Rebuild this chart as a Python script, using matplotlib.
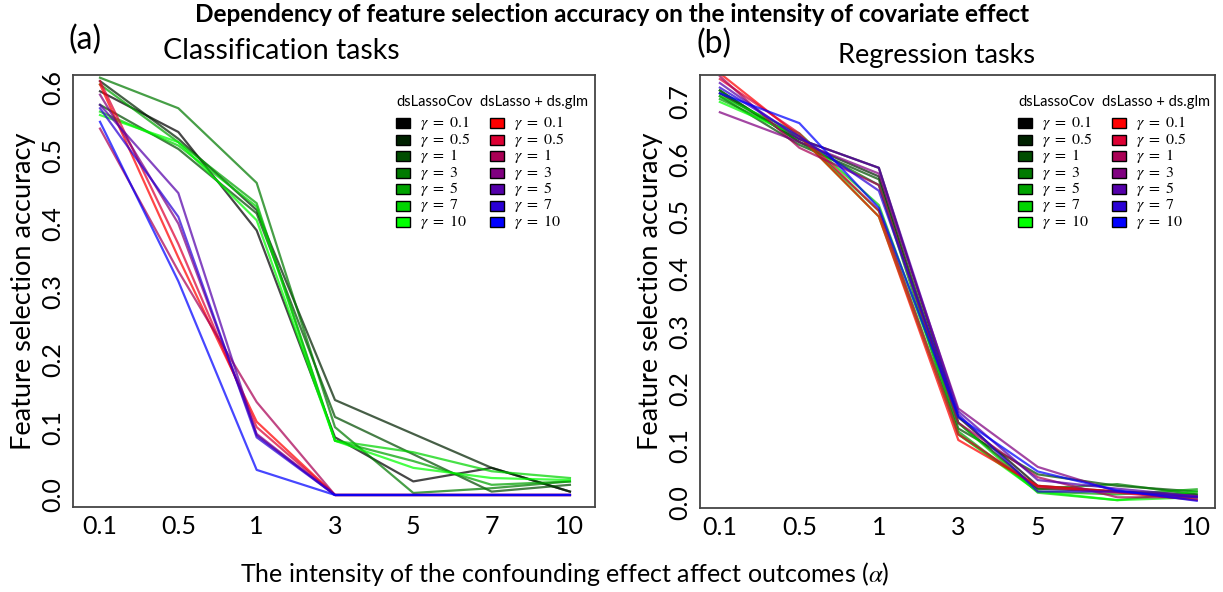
import matplotlib
matplotlib.use("Agg")
import matplotlib.pyplot as plt
from matplotlib.patches import Rectangle

plt.rcParams['font.family'] = ['Lato', 'DejaVu Sans']
plt.rcParams['mathtext.fontset'] = 'stix'

alpha_labels = ["0.1", "0.5", "1", "3", "5", "7", "10"]
gammas = ["0.1", "0.5", "1", "3", "5", "7", "10"]

cov_colors = ["#000000", "#002200", "#004d00", "#007a00", "#00a300", "#00d400", "#00ff00"]
glm_colors = ["#ff0000", "#dd0033", "#aa0055", "#800080", "#5500aa", "#2a00d5", "#0000ff"]

# Classification tasks (a)
cls_cov = [
    [0.595, 0.535, 0.390, 0.085, 0.020, 0.040, 0.005],
    [0.610, 0.525, 0.420, 0.140, 0.090, 0.040, 0.005],
    [0.575, 0.510, 0.415, 0.115, 0.060, 0.005, 0.015],
    [0.615, 0.570, 0.460, 0.100, 0.003, 0.010, 0.020],
    [0.605, 0.520, 0.430, 0.080, 0.050, 0.015, 0.020],
    [0.565, 0.515, 0.425, 0.080, 0.063, 0.035, 0.025],
    [0.560, 0.520, 0.405, 0.080, 0.040, 0.025, 0.022],
]
cls_glm = [
    [0.605, 0.350, 0.108, 0.0, 0.0, 0.0, 0.0],
    [0.610, 0.370, 0.100, 0.0, 0.0, 0.0, 0.0],
    [0.540, 0.330, 0.137, 0.0, 0.0, 0.0, 0.0],
    [0.590, 0.400, 0.090, 0.0, 0.0, 0.0, 0.0],
    [0.575, 0.445, 0.088, 0.0, 0.0, 0.0, 0.0],
    [0.570, 0.410, 0.085, 0.0, 0.0, 0.0, 0.0],
    [0.550, 0.315, 0.037, 0.0, 0.0, 0.0, 0.0],
]

# Regression tasks (b)
reg_cov = [
    [0.715, 0.635, 0.585, 0.150, 0.030, 0.020, 0.010],
    [0.720, 0.630, 0.570, 0.140, 0.025, 0.020, 0.015],
    [0.710, 0.625, 0.565, 0.130, 0.050, 0.030, 0.020],
    [0.720, 0.630, 0.555, 0.120, 0.025, 0.033, 0.015],
    [0.705, 0.640, 0.510, 0.125, 0.020, 0.015, 0.024],
    [0.710, 0.645, 0.520, 0.140, 0.018, 0.005, 0.020],
    [0.700, 0.640, 0.500, 0.120, 0.020, 0.005, 0.010],
]
reg_glm = [
    [0.750, 0.640, 0.500, 0.110, 0.030, 0.020, 0.005],
    [0.740, 0.645, 0.510, 0.120, 0.028, 0.018, 0.006],
    [0.745, 0.620, 0.555, 0.140, 0.045, 0.010, 0.010],
    [0.682, 0.630, 0.575, 0.165, 0.063, 0.020, 0.012],
    [0.733, 0.635, 0.585, 0.160, 0.040, 0.025, 0.012],
    [0.725, 0.640, 0.545, 0.155, 0.020, 0.020, 0.010],
    [0.715, 0.663, 0.515, 0.150, 0.055, 0.022, 0.004],
]

W, H = 1223, 592
fig = plt.figure(figsize=(W / 100, H / 100), dpi=100)


def px_axes(l, r, t, b):
    return fig.add_axes([l / W, 1 - b / H, (r - l) / W, (b - t) / H])


def draw_legend(ax, x0px, ax_l, ax_r, ax_t, ax_b):
    aw = ax_r - ax_l
    ah = ax_b - ax_t

    def fx(px):
        return (px - ax_l) / aw

    def fy(py):
        return (ax_b - py) / ah

    col_offsets = [0, 94]
    ax.text(fx(x0px), fy(102), "dsLassoCov", transform=ax.transAxes,
            fontsize=10.5, va='center', ha='left')
    ax.text(fx(x0px + 84), fy(102), "dsLasso + ds.glm", transform=ax.transAxes,
            fontsize=10.5, va='center', ha='left')
    rows = [123, 140, 156, 173, 189, 206, 222]
    for colors, off in zip([cov_colors, glm_colors], col_offsets):
        for g, c, ry in zip(gammas, colors, rows):
            px = x0px + off
            ax.add_patch(Rectangle((fx(px), fy(ry + 5)), 14 / aw, 10 / ah,
                                   transform=ax.transAxes, facecolor=c,
                                   edgecolor='black', linewidth=1.0, clip_on=False))
            ax.text(fx(px + 24), fy(ry), r"$\gamma\ =\ " + g + "$",
                    transform=ax.transAxes, fontsize=11.5, va='center', ha='left')


def draw_panel(ax, cov, glm, xlim, ylim, yticks):
    xs = list(range(len(alpha_labels)))
    for vals, c in zip(cov, cov_colors):
        ax.plot(xs, vals, color=c, lw=1.6, alpha=0.72)
    for vals, c in zip(glm, glm_colors):
        ax.plot(xs, vals, color=c, lw=1.6, alpha=0.72)
    ax.set_xlim(*xlim)
    ax.set_ylim(*ylim)
    ax.set_xticks(xs)
    ax.set_xticklabels(alpha_labels, fontsize=18)
    ax.set_yticks(yticks)
    ax.set_yticklabels([f"{v:.1f}" for v in yticks], fontsize=18, rotation=90, va='center')
    ax.tick_params(length=0, pad=6)
    for s in ax.spines.values():
        s.set_color('#444444')
        s.set_linewidth(1.3)
    ax.set_ylabel("Feature selection accuracy", fontsize=19.5, labelpad=4)


ax1 = px_axes(73, 595, 75, 507)
draw_panel(ax1, cls_cov, cls_glm, (-0.345, 6.32), (-0.0177, 0.619),
           [0.0, 0.1, 0.2, 0.3, 0.4, 0.5, 0.6])
draw_legend(ax1, 396, 73, 595, 75, 507)

ax2 = px_axes(700, 1215, 75, 508)
draw_panel(ax2, reg_cov, reg_glm, (-0.25, 6.23), (-0.0087, 0.747),
           [0.0, 0.1, 0.2, 0.3, 0.4, 0.5, 0.6, 0.7])
draw_legend(ax2, 1018, 700, 1215, 75, 508)

fig.text(612 / W, 1 - 15 / H, "Dependency of feature selection accuracy on the intensity of covariate effect",
         ha='center', va='center', fontsize=17.5, fontweight='bold')
fig.text(68 / W, 1 - 40 / H, "(a)", ha='left', va='center', fontsize=23)
fig.text(281 / W, 1 - 51 / H, "Classification tasks", ha='center', va='center', fontsize=20.5)
fig.text(696 / W, 1 - 44 / H, "(b)", ha='left', va='center', fontsize=23)
fig.text(937 / W, 1 - 55 / H, "Regression tasks", ha='center', va='center', fontsize=19.5)
fig.text(565 / W, 1 - 574 / H, r"The intensity of the confounding effect affect outcomes ($\alpha$)",
         ha='center', va='center', fontsize=18)

fig.savefig("out.png", dpi=100)
